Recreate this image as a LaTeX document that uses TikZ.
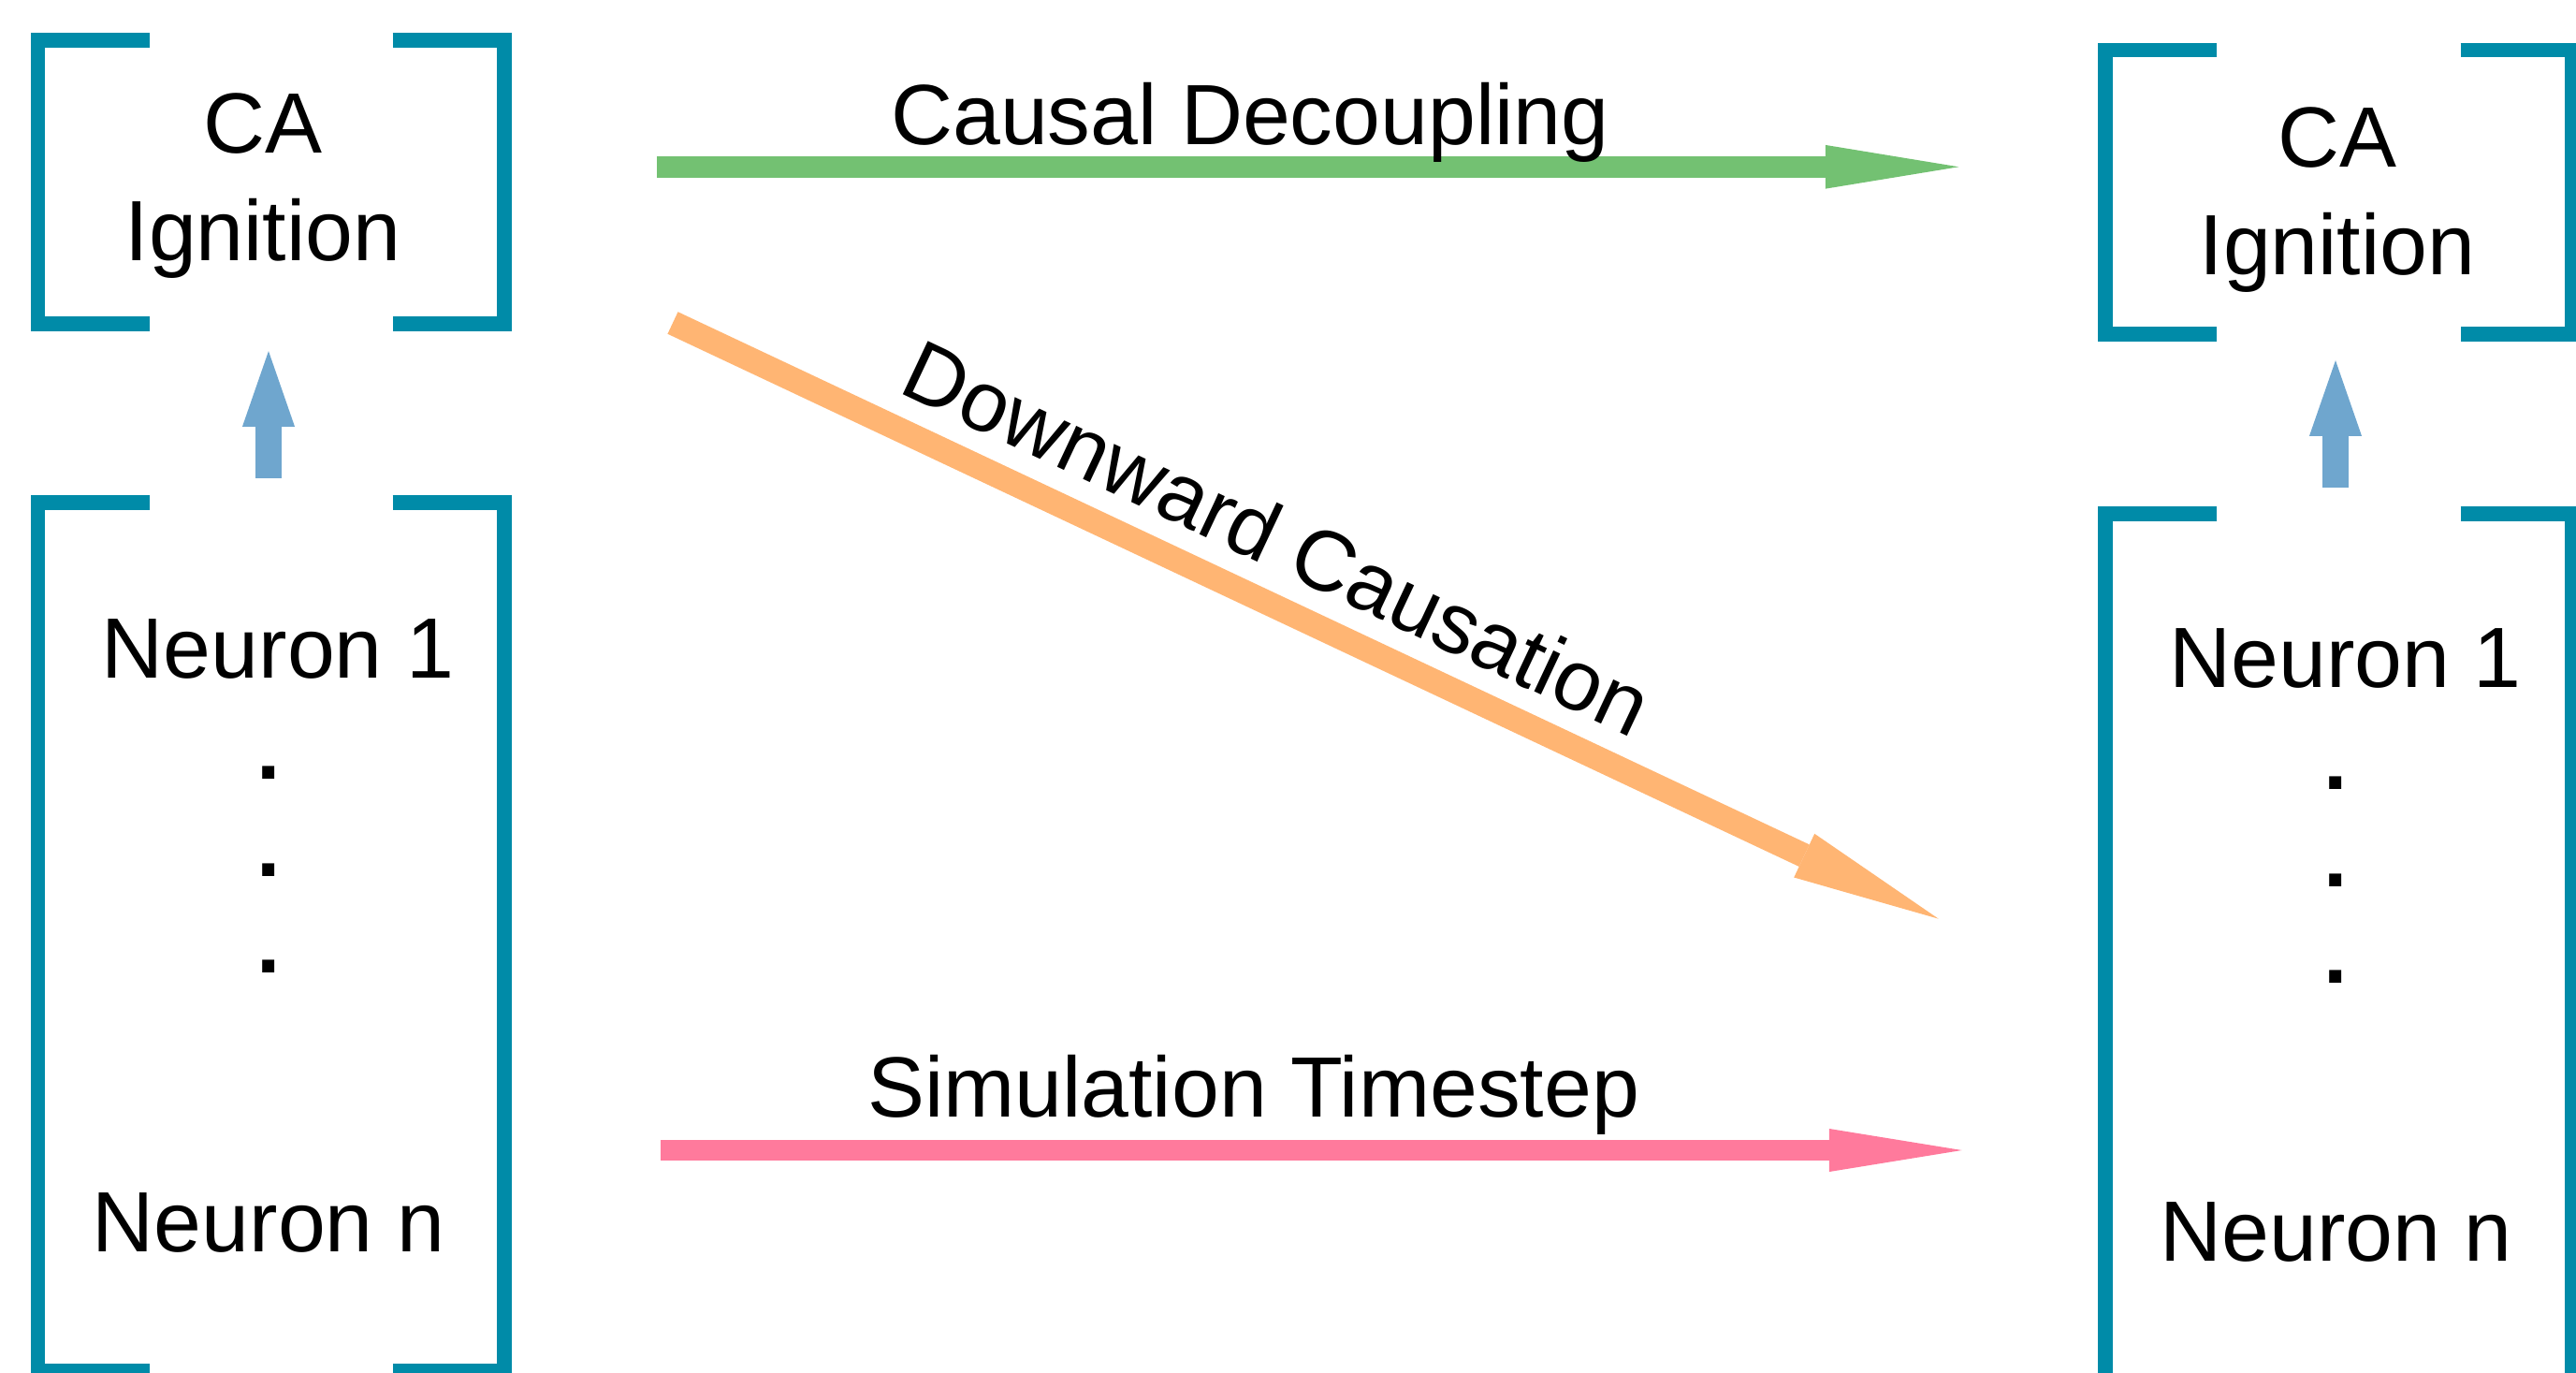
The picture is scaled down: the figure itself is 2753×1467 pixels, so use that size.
\documentclass[tikz,border=0pt]{standalone}
\usepackage{fontspec}
\setmainfont{Liberation Sans}
\usetikzlibrary{arrows.meta,calc}
\definecolor{tealA}{RGB}{0,139,168}
\definecolor{blueA}{RGB}{111,166,206}
\definecolor{greenA}{RGB}{115,193,114}
\definecolor{orangeA}{RGB}{255,181,115}
\definecolor{pinkA}{RGB}{255,122,156}
\begin{document}
\begin{tikzpicture}[x=0.01cm,y=-0.01cm,
  every node/.style={inner sep=0pt,outer sep=0pt},
  lbl/.style={font=\fontsize{26}{32.7}\selectfont},
  dotlbl/.style={font=\fontsize{26}{32.7}\selectfont\bfseries},
  frame/.style={rectangle,draw=none,inner sep=0pt,outer sep=0pt},
  brk/.style={draw=tealA,line width=0.156cm,line join=miter,line cap=butt},
  uparr/.style={draw=blueA,line width=0.28cm,-{Triangle[length=0.807cm,width=0.56cm,line width=0pt]}},
  garr/.style={draw=greenA,line width=0.233cm,-{Triangle[length=1.423cm,width=0.467cm,line width=0pt]}},
  oarr/.style={draw=orangeA,line width=0.26cm,-{Triangle[length=1.585cm,width=0.516cm,line width=0pt]}},
  parr/.style={draw=pinkA,line width=0.223cm,-{Triangle[length=1.417cm,width=0.46cm,line width=0pt]}}]
\useasboundingbox (0,0) rectangle (2753,1467);

% frames
\node[frame,minimum width=4.985cm,minimum height=3.027cm] (cbox1) at (289.75,194.65) {};
\node[frame,minimum width=4.985cm,minimum height=9.273cm] (nbox1) at (289.75,1001.15) {};
\node[frame,minimum width=4.99cm,minimum height=3.033cm] (cbox2) at (2499.5,205.35) {};
\node[frame,minimum width=4.99cm,minimum height=9.405cm] (nbox2) at (2499.5,1019.75) {};

\foreach \b in {cbox1,nbox1,cbox2,nbox2}{
  \draw[brk] ($(\b.north west)+(119.5,0)$) -| (\b.south west) -- ++(119.5,0);
  \draw[brk] ($(\b.north east)+(-119.5,0)$) -| (\b.south east) -- ++(-119.5,0);
}

% texts left
\node[lbl,align=center] (ca1) at (281,199) {CA\\Ignition};
\node[lbl,anchor=base] (n1a) at (297,724.3) {Neuron 1};
\node[dotlbl] (d1a) at (287.5,825.5) {.};
\node[dotlbl] (d2a) at (287.5,929.5) {.};
\node[dotlbl] (d3a) at (287.5,1033) {.};
\node[lbl,anchor=base] (nna) at (287,1337) {Neuron n};

% texts right
\node[lbl,align=center] (ca2) at (2498,214) {CA\\Ignition};
\node[lbl,anchor=base] (n1b) at (2506.5,735) {Neuron 1};
\node[dotlbl] (d1b) at (2496.5,836.5) {.};
\node[dotlbl] (d2b) at (2496.5,940.5) {.};
\node[dotlbl] (d3b) at (2496.5,1044) {.};
\node[lbl,anchor=base] (nnb) at (2496.5,1347) {Neuron n};

% up arrows
\draw[uparr] ($(nbox1.north)+(-2.75,-26.5)$) -- ($(cbox1.south)+(-2.75,29)$);
\draw[uparr] ($(nbox2.north)+(-3.5,-28.5)$) -- ($(cbox2.south)+(-3.5,28)$);

% long arrows
\coordinate (gS) at (702,178.3);
\coordinate (gE) at (2093.3,178.3);
\coordinate (oS) at (719,345);
\coordinate (oE) at (2071.7,981.7);
\coordinate (pS) at (706,1229);
\coordinate (pE) at (2096.7,1229);
\draw[garr] (gS) -- (gE);
\draw[oarr] (oS) -- (oE);
\draw[parr] (pS) -- (pE);

% labels
\node[lbl,anchor=base] (lgreen) at (1336,154.5) {Causal Decoupling};
\node[lbl,anchor=base,rotate=-25.2] (lorange) at (1352,604) {Downward Causation};
\node[lbl,anchor=base] (lpink) at (1339.5,1193) {Simulation Timestep};
\end{tikzpicture}
\end{document}
